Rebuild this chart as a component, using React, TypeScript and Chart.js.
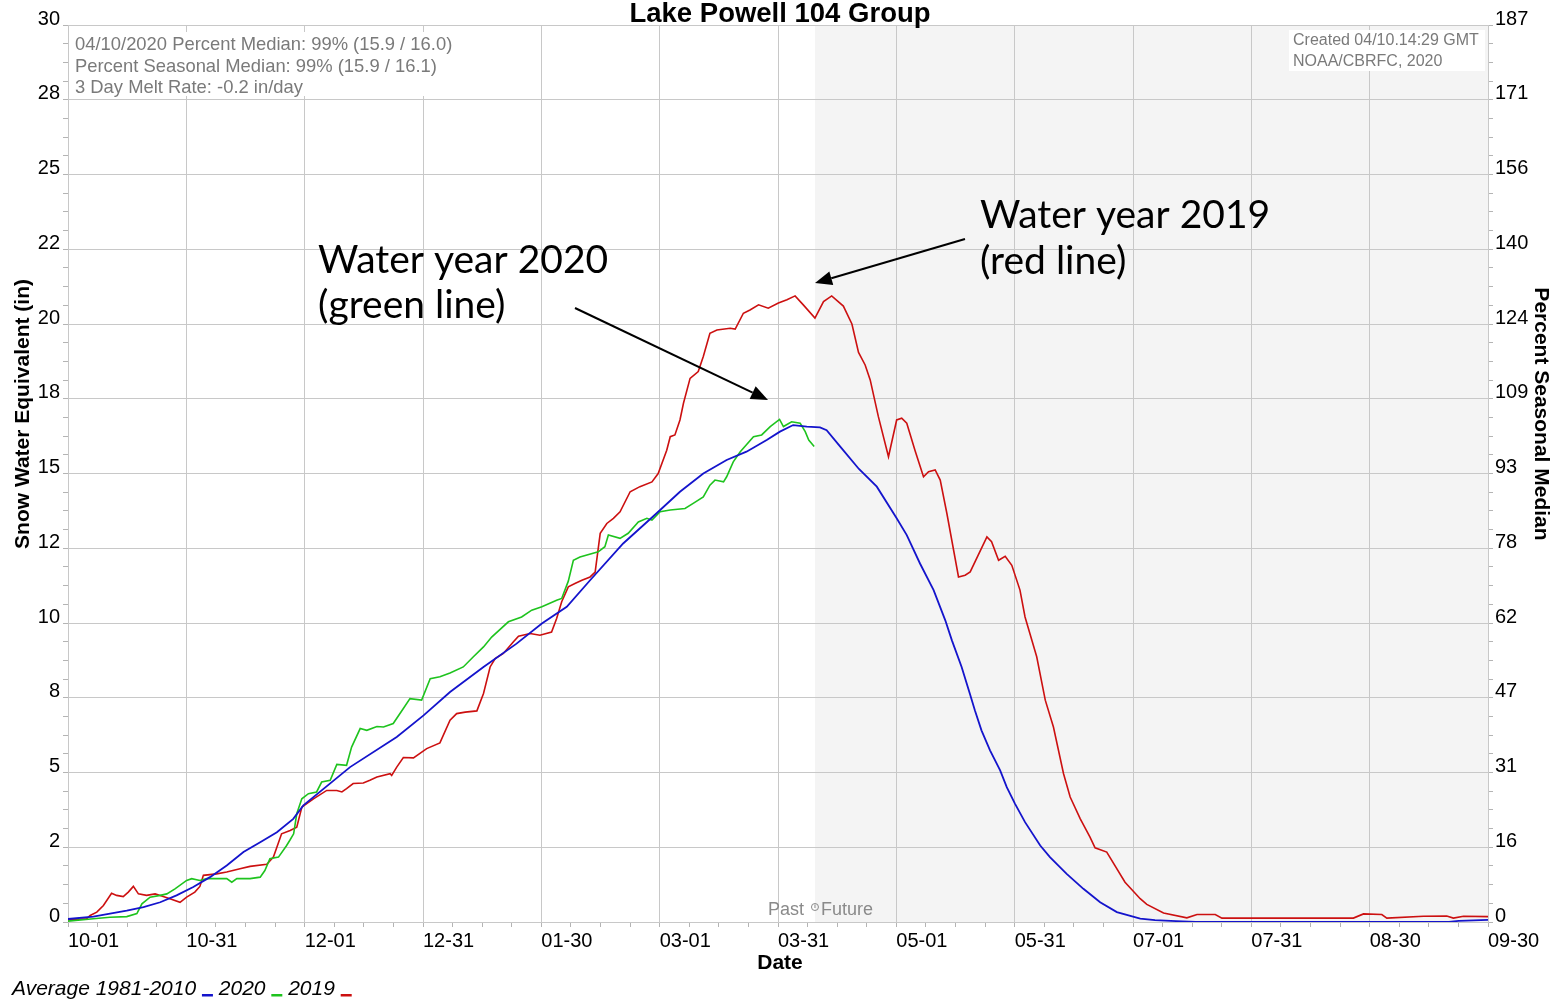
import React, { useEffect, useRef } from 'react';
import { Chart, registerables } from 'chart.js';

Chart.register(...registerables);

// ---------- text / axis data ----------
const TITLE = 'Lake Powell 104 Group';
const Y_TITLE = 'Snow Water Equivalent (in)';
const Y2_TITLE = 'Percent Seasonal Median';
const X_TITLE = 'Date';
const X_TICK_LABELS = ['10-01', '10-31', '12-01', '12-31', '01-30', '03-01', '03-31', '05-01', '05-31', '07-01', '07-31', '08-30', '09-30'];
const LEFT_TICK_LABELS = ['0', '2', '5', '8', '10', '12', '15', '18', '20', '22', '25', '28', '30'];
const RIGHT_TICK_LABELS = ['0', '16', '31', '47', '62', '78', '93', '109', '124', '140', '156', '171', '187'];
const DAYS_IN_YEAR = 365;
const SWE_MAX = 30;
const MINOR_PER_MAJOR = 4;
const FUTURE_START_DAY = 192; // 04-10
const INFO_LINES = ['04/10/2020 Percent Median: 99% (15.9 / 16.0)', 'Percent Seasonal Median: 99% (15.9 / 16.1)', '3 Day Melt Rate: -0.2 in/day'];
const CREATED_LINES = ['Created 04/10.14:29 GMT', 'NOAA/CBRFC, 2020'];
const NOTE_2020 = ['Water year 2020', '(green line)'];
const NOTE_2019 = ['Water year 2019', '(red line)'];

// ---------- series (day of water year, SWE inches) ----------
const AVG_LABEL = 'Average 1981-2010';
const AVG_DAYS = [0, 6.5, 10.8, 15.1, 19.4, 23.7, 27.9, 32.2, 36.5, 40.8, 45.1, 49.4, 53.7, 57.9, 60.5, 72.5, 84.5, 91.4, 98.2, 106.8, 115.3, 121.8, 128.2, 134.2, 142.7, 151.3, 157.3, 163.3, 169.3, 174.4, 179.6, 183.0, 186.4, 189.9, 193.3, 195.0, 198.5, 203.3, 207.9, 213.0, 215.6, 219.0, 222.5, 225.5, 227.2, 229.7, 231.8, 233.1, 234.8, 237.0, 239.6, 241.3, 243.4, 246.0, 249.9, 252.4, 256.7, 261.0, 265.3, 269.6, 275.6, 279.4, 284.8, 289.8, 355.0, 357.5, 365];
const AVG_SWE = [0.1, 0.18, 0.28, 0.38, 0.5, 0.66, 0.89, 1.17, 1.5, 1.89, 2.34, 2.67, 3.0, 3.45, 3.9, 5.18, 6.19, 6.91, 7.69, 8.53, 9.31, 9.98, 10.54, 11.43, 12.66, 13.67, 14.39, 15.0, 15.45, 15.73, 16.12, 16.4, 16.62, 16.57, 16.54, 16.45, 15.9, 15.15, 14.56, 13.5, 12.94, 11.99, 11.1, 10.09, 9.42, 8.53, 7.64, 7.08, 6.41, 5.74, 5.07, 4.51, 3.96, 3.34, 2.56, 2.17, 1.61, 1.11, 0.66, 0.33, 0.11, 0.06, 0.03, 0.0, 0.0, 0.04, 0.07];

const WY2020_LABEL = '2020';
const WY2020_DAYS = [0, 6.5, 10.8, 15.1, 17.7, 19.0, 21.1, 23.7, 25.4, 27.5, 30.5, 31.8, 33.9, 35.7, 37.4, 40.8, 42.1, 43.4, 46.8, 49.4, 50.6, 51.9, 54.1, 56.2, 57.1, 58.0, 58.8, 60.1, 61.8, 63.9, 65.2, 67.4, 69.1, 71.6, 72.9, 75.1, 76.8, 79.4, 81.1, 83.6, 86.2, 87.9, 90.9, 93.1, 95.6, 98.2, 101.6, 104.2, 106.8, 108.9, 113.2, 116.6, 119.2, 121.8, 125.6, 126.9, 128.6, 129.9, 131.6, 136.3, 138.0, 138.9, 141.9, 144.0, 146.6, 148.8, 150.1, 152.2, 154.8, 158.6, 160.7, 163.3, 165.0, 166.3, 168.5, 169.3, 171.0, 172.8, 176.2, 178.3, 180.5, 182.9, 183.9, 186.0, 188.2, 189.5, 190.4, 191.8];
const WY2020_SWE = [0.03, 0.11, 0.16, 0.18, 0.28, 0.61, 0.83, 0.89, 0.94, 1.11, 1.39, 1.45, 1.39, 1.45, 1.45, 1.45, 1.33, 1.45, 1.45, 1.5, 1.72, 2.12, 2.17, 2.56, 2.75, 2.95, 3.62, 4.12, 4.29, 4.35, 4.68, 4.74, 5.27, 5.24, 5.85, 6.47, 6.41, 6.54, 6.52, 6.64, 7.14, 7.47, 7.42, 8.14, 8.2, 8.33, 8.53, 8.87, 9.2, 9.53, 10.04, 10.2, 10.43, 10.54, 10.76, 10.82, 11.4, 12.1, 12.21, 12.38, 12.55, 12.94, 12.83, 13.0, 13.38, 13.5, 13.44, 13.72, 13.78, 13.83, 14.0, 14.22, 14.61, 14.78, 14.72, 14.89, 15.39, 15.73, 16.23, 16.29, 16.57, 16.81, 16.57, 16.73, 16.68, 16.4, 16.12, 15.9];

const WY2019_LABEL = '2019';
const WY2019_DAYS = [0, 4.8, 5.7, 7.4, 9.1, 11.2, 12.5, 14.2, 15.5, 16.8, 18.1, 20.2, 22.4, 23.7, 26.2, 28.8, 30.5, 32.6, 33.9, 34.8, 38.2, 40.8, 44.2, 46.8, 51.1, 52.8, 54.9, 57.1, 58.8, 60.1, 63.1, 66.5, 69.1, 70.4, 71.6, 73.3, 75.9, 77.6, 79.4, 82.8, 83.2, 84.5, 86.2, 88.8, 92.2, 95.6, 98.2, 99.9, 102.1, 105.1, 106.8, 108.5, 109.8, 111.9, 114.5, 115.8, 118.8, 121.3, 124.3, 125.6, 126.9, 128.6, 130.3, 132.1, 134.2, 135.5, 136.8, 138.5, 140.2, 141.9, 144.5, 147.0, 150.1, 151.7, 153.9, 154.8, 156.0, 157.3, 158.2, 159.9, 162.0, 163.3, 165.0, 166.8, 170.2, 171.5, 173.6, 175.3, 177.5, 180.0, 182.6, 184.8, 186.9, 189.0, 192.0, 194.2, 196.3, 199.3, 201.5, 203.2, 204.9, 206.2, 208.3, 210.9, 213.0, 214.3, 215.6, 217.7, 219.9, 221.2, 222.9, 224.2, 225.9, 228.9, 230.6, 231.9, 236.2, 237.4, 239.2, 240.9, 242.6, 244.7, 246.0, 249.0, 251.2, 253.3, 255.9, 257.6, 260.2, 262.7, 264.0, 267.0, 271.7, 275.6, 277.3, 281.6, 287.6, 290.2, 294.9, 296.6, 330.4, 333.0, 337.7, 339.0, 348.4, 354.4, 356.1, 358.7, 365];
const WY2019_SWE = [0.07, 0.11, 0.22, 0.33, 0.55, 0.96, 0.89, 0.85, 1.0, 1.19, 0.94, 0.89, 0.94, 0.89, 0.78, 0.66, 0.83, 1.0, 1.19, 1.56, 1.61, 1.67, 1.78, 1.86, 1.93, 2.17, 2.95, 3.06, 3.17, 3.84, 4.12, 4.4, 4.4, 4.35, 4.46, 4.63, 4.65, 4.74, 4.85, 4.96, 4.9, 5.18, 5.5, 5.49, 5.8, 5.99, 6.75, 6.97, 7.02, 7.06, 7.64, 8.53, 8.81, 8.98, 9.37, 9.56, 9.65, 9.59, 9.7, 10.15, 10.71, 11.21, 11.32, 11.43, 11.54, 11.7, 13.0, 13.33, 13.5, 13.72, 14.39, 14.56, 14.72, 15.0, 15.78, 16.23, 16.29, 16.79, 17.35, 18.18, 18.41, 18.91, 19.69, 19.8, 19.86, 19.83, 20.36, 20.47, 20.64, 20.53, 20.7, 20.81, 20.94, 20.64, 20.2, 20.75, 20.94, 20.6, 20.0, 19.05, 18.63, 18.13, 16.9, 15.56, 16.79, 16.85, 16.68, 15.78, 14.89, 15.06, 15.12, 14.78, 13.67, 11.54, 11.6, 11.71, 12.88, 12.72, 12.1, 12.23, 11.93, 11.1, 10.2, 8.87, 7.42, 6.52, 4.96, 4.18, 3.45, 2.84, 2.48, 2.34, 1.33, 0.78, 0.59, 0.3, 0.14, 0.25, 0.25, 0.13, 0.13, 0.27, 0.25, 0.13, 0.19, 0.2, 0.13, 0.19, 0.18];

// ---------- styling ----------
const FONT = '"Liberation Sans", Arial, Helvetica, sans-serif';
const NOTE_FONT = 'Lato, "Open Sans", sans-serif';
const GRID_COLOR = '#c8c8c8';
const TICK_COLOR = '#b4b4b4';
const BLUE = '#1414cc';
const GREEN = '#1ec31e';
const RED = '#cc1010';

const toPoints = (days: number[], swe: number[]) => days.map((d, i) => ({ x: d, y: swe[i] }));

function drawArrow(ctx: CanvasRenderingContext2D, x1: number, y1: number, x2: number, y2: number) {
  const ang = Math.atan2(y2 - y1, x2 - x1);
  const len = 17;
  const half = 7;
  const bx = x2 - len * Math.cos(ang);
  const by = y2 - len * Math.sin(ang);
  ctx.strokeStyle = '#000';
  ctx.lineWidth = 2;
  ctx.beginPath();
  ctx.moveTo(x1, y1);
  ctx.lineTo(bx, by);
  ctx.stroke();
  ctx.fillStyle = '#000';
  ctx.beginPath();
  ctx.moveTo(x2, y2);
  ctx.lineTo(bx + half * Math.sin(ang), by - half * Math.cos(ang));
  ctx.lineTo(bx - half * Math.sin(ang), by + half * Math.cos(ang));
  ctx.closePath();
  ctx.fill();
}

const overlayPlugin = {
  id: 'snowOverlay',
  beforeDraw(chart: any) {
    const { ctx, chartArea: a, scales } = chart;
    ctx.save();
    ctx.fillStyle = '#ffffff';
    ctx.fillRect(0, 0, chart.width, chart.height);
    const xf = scales.x.getPixelForValue(FUTURE_START_DAY);
    ctx.fillStyle = '#f4f4f4';
    ctx.fillRect(xf, a.top, a.right - xf, a.bottom - a.top);
    ctx.restore();
  },
  afterDraw(chart: any) {
    const { ctx, chartArea: a, scales } = chart;
    const xf = scales.x.getPixelForValue(FUTURE_START_DAY);
    ctx.save();

    // info box top-left
    ctx.fillStyle = '#ffffff';
    ctx.fillRect(a.left + 2, a.top + 7, 392, 64);
    ctx.fillStyle = '#7a7a7a';
    ctx.font = `18.4px ${FONT}`;
    ctx.textAlign = 'left';
    ctx.textBaseline = 'middle';
    INFO_LINES.forEach((t, i) => ctx.fillText(t, a.left + 7, a.top + 20 + i * 21.5));

    // created box top-right
    ctx.fillStyle = '#ffffff';
    ctx.fillRect(a.right - 199, a.top + 5, 196, 41);
    ctx.fillStyle = '#7a7a7a';
    ctx.font = `16px ${FONT}`;
    CREATED_LINES.forEach((t, i) => ctx.fillText(t, a.right - 195, a.top + 16 + i * 21));

    // Past / Future
    ctx.font = `18px ${FONT}`;
    ctx.fillStyle = '#8a8a8a';
    ctx.textAlign = 'right';
    ctx.fillText('Past', xf - 11, a.bottom - 12);
    ctx.textAlign = 'left';
    ctx.fillText('Future', xf + 6, a.bottom - 12);
    ctx.strokeStyle = '#8a8a8a';
    ctx.lineWidth = 1;
    ctx.beginPath();
    ctx.arc(xf, a.bottom - 15, 3.5, 0, Math.PI * 2);
    ctx.stroke();
    ctx.beginPath();
    ctx.moveTo(xf, a.bottom - 17.5);
    ctx.lineTo(xf, a.bottom - 14);
    ctx.stroke();

    // title
    ctx.fillStyle = '#000';
    ctx.font = `bold 27.5px ${FONT}`;
    ctx.textAlign = 'center';
    ctx.textBaseline = 'alphabetic';
    ctx.fillText(TITLE, (a.left + a.right) / 2 + 2, 22);

    // axis titles
    ctx.font = `bold 21px ${FONT}`;
    ctx.textBaseline = 'middle';
    ctx.fillText(X_TITLE, (a.left + a.right) / 2 + 2, 963);
    ctx.save();
    ctx.translate(23, 414);
    ctx.rotate(-Math.PI / 2);
    ctx.fillText(Y_TITLE, 0, 0);
    ctx.restore();
    ctx.save();
    ctx.translate(1541, 414);
    ctx.rotate(Math.PI / 2);
    ctx.fillText(Y2_TITLE, 0, 0);
    ctx.restore();

    // legend
    ctx.font = `italic 21px ${FONT}`;
    ctx.textAlign = 'left';
    ctx.textBaseline = 'alphabetic';
    let lx = 12;
    const ly = 995;
    const space = ctx.measureText(' ').width;
    chart.data.datasets.forEach((ds: any) => {
      ctx.fillStyle = '#000';
      const t = ds.label + ' ';
      ctx.fillText(t, lx, ly);
      lx += ctx.measureText(t).width;
      ctx.fillStyle = ds.borderColor;
      ctx.fillRect(lx, ly - 1, 11, 2.5);
      lx += 11 + space;
    });

    // annotations
    ctx.fillStyle = '#000';
    ctx.font = `39px ${NOTE_FONT}`;
    NOTE_2020.forEach((t, i) => ctx.fillText(t, 318, 273 + i * 45));
    NOTE_2019.forEach((t, i) => ctx.fillText(t, 980, 228 + i * 46));
    drawArrow(ctx, 575, 308, 768, 400);
    drawArrow(ctx, 965, 239, 815, 283);

    ctx.restore();
  },
};

const gridColor = (ctx: any) => (ctx.index % MINOR_PER_MAJOR === 0 ? GRID_COLOR : 'rgba(0,0,0,0)');

export default function App() {
  const ref = useRef<HTMLCanvasElement>(null);

  useEffect(() => {
    if (!ref.current) return;
    const xMinorCount = (X_TICK_LABELS.length - 1) * MINOR_PER_MAJOR;
    const yMinorCount = (LEFT_TICK_LABELS.length - 1) * MINOR_PER_MAJOR;
    const xTicks = Array.from({ length: xMinorCount + 1 }, (_, i) => ({ value: (i * DAYS_IN_YEAR) / xMinorCount }));
    const yTicks = Array.from({ length: yMinorCount + 1 }, (_, i) => ({ value: (i * SWE_MAX) / yMinorCount }));

    const chart = new Chart(ref.current, {
      type: 'line',
      data: {
        datasets: [
          { label: AVG_LABEL, data: toPoints(AVG_DAYS, AVG_SWE), borderColor: BLUE, borderWidth: 1.8, pointRadius: 0, fill: false, tension: 0 },
          { label: WY2020_LABEL, data: toPoints(WY2020_DAYS, WY2020_SWE), borderColor: GREEN, borderWidth: 1.6, pointRadius: 0, fill: false, tension: 0 },
          { label: WY2019_LABEL, data: toPoints(WY2019_DAYS, WY2019_SWE), borderColor: RED, borderWidth: 1.6, pointRadius: 0, fill: false, tension: 0 },
        ],
      },
      options: {
        animation: false,
        responsive: false,
        devicePixelRatio: 1,
        layout: { padding: { top: 25, left: 0, right: 0, bottom: 0 } },
        plugins: { legend: { display: false }, tooltip: { enabled: false }, title: { display: false } },
        scales: {
          x: {
            type: 'linear',
            position: 'bottom',
            min: 0,
            max: DAYS_IN_YEAR,
            afterBuildTicks: (s: any) => { s.ticks = xTicks.map((t) => ({ ...t })); },
            afterFit: (s: any) => { s.height = 78; },
            grid: { color: gridColor, tickColor: TICK_COLOR, tickLength: 5, lineWidth: 1 },
            border: { display: true, color: GRID_COLOR },
            ticks: {
              autoSkip: false,
              maxRotation: 0,
              minRotation: 0,
              align: 'start',
              padding: 2,
              color: '#000',
              font: { family: FONT, size: 20 },
              callback: (_v: any, i: number) => (i % MINOR_PER_MAJOR === 0 ? X_TICK_LABELS[i / MINOR_PER_MAJOR] : ''),
            },
          },
          y: {
            type: 'linear',
            position: 'left',
            min: 0,
            max: SWE_MAX,
            afterBuildTicks: (s: any) => { s.ticks = yTicks.map((t) => ({ ...t })); },
            afterFit: (s: any) => { s.width = 68; },
            grid: { color: gridColor, tickColor: TICK_COLOR, tickLength: 5, lineWidth: 1 },
            border: { display: true, color: GRID_COLOR },
            ticks: {
              autoSkip: false,
              padding: 3,
              labelOffset: -6,
              color: '#000',
              font: { family: FONT, size: 20 },
              callback: (_v: any, i: number) => (i % MINOR_PER_MAJOR === 0 ? LEFT_TICK_LABELS[i / MINOR_PER_MAJOR] : ''),
            },
          },
          y2: {
            type: 'linear',
            position: 'right',
            min: 0,
            max: SWE_MAX,
            afterBuildTicks: (s: any) => { s.ticks = yTicks.map((t) => ({ ...t })); },
            afterFit: (s: any) => { s.width = 76; },
            grid: { drawOnChartArea: false, tickColor: TICK_COLOR, tickLength: 5, lineWidth: 1 },
            border: { display: true, color: GRID_COLOR },
            ticks: {
              autoSkip: false,
              padding: 2,
              labelOffset: -6,
              color: '#000',
              font: { family: FONT, size: 20 },
              callback: (_v: any, i: number) => (i % MINOR_PER_MAJOR === 0 ? RIGHT_TICK_LABELS[i / MINOR_PER_MAJOR] : ''),
            },
          },
        },
      } as any,
      plugins: [overlayPlugin],
    });
    return () => chart.destroy();
  }, []);

  return (
    <div style={{ position: 'absolute', left: 0, top: 0, width: 1564, height: 1000, background: '#fff' }}>
      <canvas ref={ref} width={1564} height={1000} style={{ display: 'block', width: 1564, height: 1000 }} />
    </div>
  );
}
